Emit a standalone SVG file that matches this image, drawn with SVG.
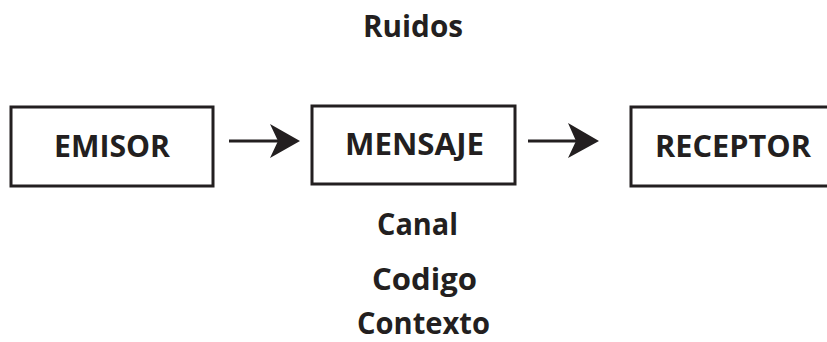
<svg xmlns="http://www.w3.org/2000/svg" width="827" height="342" viewBox="0 0 827 342">
<style>
.box{fill:#fff;stroke:#231f20;stroke-width:3}
.t{font-family:"Open Sans","Noto Sans","Liberation Sans",sans-serif;font-weight:bold;fill:#231f20;text-anchor:middle}
.big{font-size:31px}
.conn{stroke:#231f20;stroke-width:3;fill:none}
.head{fill:#231f20}
</style>
<rect width="827" height="342" fill="#fff"/>
<g id="ruidos"><text class="t big" x="413" y="37" textLength="100" lengthAdjust="spacingAndGlyphs">Ruidos</text></g>
<g id="emisor">
<rect class="box" x="11" y="107" width="202" height="79"/>
<text class="t big" x="112" y="157" textLength="116" lengthAdjust="spacingAndGlyphs">EMISOR</text>
</g>
<g id="mensaje">
<rect class="box" x="312" y="106" width="203" height="78"/>
<text class="t big" x="414.5" y="155" textLength="139" lengthAdjust="spacingAndGlyphs">MENSAJE</text>
</g>
<g id="receptor">
<rect class="box" x="631" y="107" width="210" height="79"/>
<text class="t big" x="733" y="157" textLength="156" lengthAdjust="spacingAndGlyphs">RECEPTOR</text>
</g>
<g id="connectors">
<line class="conn" x1="229" y1="141" x2="280" y2="141"/>
<path class="head" d="M300,141 L270,124 L278,141 L270,158 Z"/>
<line class="conn" x1="528" y1="141" x2="580" y2="141"/>
<path class="head" d="M599,141 L568,123 L576,141 L568,158 Z"/>
</g>
<g id="canal"><text class="t big" x="417.5" y="235" textLength="81" lengthAdjust="spacingAndGlyphs">Canal</text></g>
<g id="codigo"><text class="t big" x="424.5" y="290" textLength="105" lengthAdjust="spacingAndGlyphs">Codigo</text></g>
<g id="contexto"><text class="t big" x="423.5" y="334" textLength="133" lengthAdjust="spacingAndGlyphs">Contexto</text></g>
</svg>
